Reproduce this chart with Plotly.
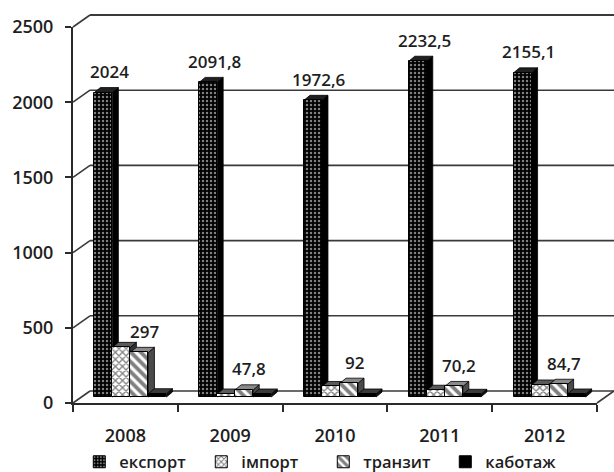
import plotly.graph_objects as go

# ---- data -------------------------------------------------------------
years = ["2008", "2009", "2010", "2011", "2012"]
series_names = ["експорт", "імпорт", "транзит", "каботаж"]
export_vals = [2024, 2091.8, 1972.6, 2232.5, 2155.1]
import_vals = [330, 20, 70, 45, 80]
transit_vals = [297, 47.8, 92, 70.2, 84.7]
cabotage_vals = [22, 20, 20, 18, 20]
y_ticks = [0, 500, 1000, 1500, 2000, 2500]

# ---- geometry of the pseudo-3D frame ---------------------------------
W, H = 614, 472
ML, MR, MT, MB = 73, 17, 27, 69
PW, PH = W - ML - MR, H - MT - MB
YMAX = 2500
XR = (-0.5, 4.5)
px_x = PW / (XR[1] - XR[0])          # pixels per x unit
px_y = PH / YMAX                     # pixels per y unit

WALL_DX, WALL_DY = 17, 12            # back wall offset in px
MID_DX, MID_DY = 5, 6                # plane where the bars stand
BAR_DX, BAR_DY = 6, 5                # depth of each bar in px

bw = 0.172
mid_x = MID_DX / px_x
base_y = MID_DY / px_y
offsets = [(k - 1.5) * bw + mid_x for k in range(4)]

FONT = "Open Sans"
INK = "#1e1e1e"
WEIGHT = 600

fig = go.Figure()

patterns = [
    dict(shape=".", fgcolor="white", bgcolor="black", size=4, solidity=0.3),
    dict(shape="x", fgcolor="black", bgcolor="white", size=5, solidity=0.45),
    dict(shape="\\", fgcolor="black", bgcolor="white", size=7, solidity=0.55),
    None,
]
fills = ["black", "white", "white", "black"]
top_colors = ["#202020", "#5a5a5a", "#8a8a8a", "#3a3a3a"]
side_colors = ["#000000", "#333333", "#4a4a4a", "#111111"]
all_vals = [export_vals, import_vals, transit_vals, cabotage_vals]

for k, (name, vals) in enumerate(zip(series_names, all_vals)):
    marker = dict(color=fills[k], line=dict(color="black", width=1))
    if patterns[k]:
        marker["pattern"] = patterns[k]
    fig.add_trace(go.Bar(
        x=[i + offsets[k] for i in range(len(years))],
        y=vals,
        base=base_y,
        width=bw,
        name=name,
        marker=marker,
        hovertemplate="%{y}<extra>" + name + "</extra>",
    ))

# depth faces of the bars (top and right side)
ddx = BAR_DX / px_x
ddy = BAR_DY / px_y
shapes = []
for k, vals in enumerate(all_vals):
    for i, v in enumerate(vals):
        x0 = i + offsets[k] - bw / 2
        x1 = x0 + bw
        b = base_y
        t = base_y + v
        top = f"M{x0},{t} L{x0+ddx},{t+ddy} L{x1+ddx},{t+ddy} L{x1},{t} Z"
        side = f"M{x1},{b} L{x1},{t} L{x1+ddx},{t+ddy} L{x1+ddx},{b+ddy} Z"
        for path, col in ((side, side_colors[k]), (top, top_colors[k])):
            shapes.append(dict(type="path", path=path, xref="x", yref="y",
                               fillcolor=col, line=dict(color="black", width=0.8),
                               layer="between"))

# back wall gridlines, floor and the slanted joins (paper coordinates)
wdx = WALL_DX / PW
wdy = WALL_DY / PH
line_style = dict(color="#3a3a3a", width=1.6)
for tv in y_ticks:
    yp = tv / YMAX
    shapes.append(dict(type="line", xref="paper", yref="paper",
                       x0=0, y0=yp, x1=wdx, y1=yp + wdy, line=line_style, layer="below"))
    shapes.append(dict(type="line", xref="paper", yref="paper",
                       x0=wdx, y0=yp + wdy, x1=1 + wdx, y1=yp + wdy,
                       line=dict(color="#3a3a3a", width=2.2 if tv == YMAX else 1.6),
                       layer="below"))
# right edge of the floor
shapes.append(dict(type="line", xref="paper", yref="paper",
                   x0=1, y0=0, x1=1 + wdx, y1=wdy, line=line_style, layer="below"))

# value labels above export and transit bars
annotations = []
for lab_series, k, dx in ((export_vals, 0, 0.06), (transit_vals, 2, 0.05)):
    for i, v in enumerate(lab_series):
        annotations.append(dict(
            x=i + offsets[k] + dx, y=base_y + v, xref="x", yref="y",
            text=format(v, "g").replace(".", ","),
            showarrow=False, yshift=21, yanchor="middle",
            font=dict(family=FONT, size=17, color=INK, weight=WEIGHT),
        ))

fig.update_layout(
    width=W, height=H,
    margin=dict(l=ML, r=MR, t=MT, b=MB, autoexpand=False),
    paper_bgcolor="white", plot_bgcolor="rgba(0,0,0,0)",
    font=dict(family=FONT, size=17, color=INK, weight=WEIGHT),
    bargap=0, barmode="overlay",
    showlegend=True,
    legend=dict(orientation="h", x=0.012, xanchor="left", y=-0.157, yanchor="middle",
                font=dict(family=FONT, size=16.5, color=INK, weight=WEIGHT),
                entrywidth=77, entrywidthmode="pixels",
                itemwidth=30, tracegroupgap=0, bgcolor="rgba(0,0,0,0)"),
    xaxis=dict(range=list(XR), tickvals=list(range(len(years))), ticktext=years,
               ticks="", showline=True, linecolor="#2a2a2a", linewidth=2,
               showgrid=False, zeroline=False, ticklabelstandoff=15, automargin=False,
               tickfont=dict(family=FONT, size=18, color=INK, weight=WEIGHT),
               minor=dict(tickmode="linear", tick0=-0.5, dtick=1, ticks="outside",
                          ticklen=7, tickwidth=2, tickcolor="#2a2a2a", showgrid=False)),
    yaxis=dict(range=[0, YMAX], tickvals=y_ticks, ticks="outside", ticklen=6,
               tickwidth=2, tickcolor="#2a2a2a", showline=True, linecolor="#2a2a2a",
               linewidth=2, showgrid=False, zeroline=False, ticklabelstandoff=8,
               automargin=False,
               tickfont=dict(family=FONT, size=18, color=INK, weight=WEIGHT)),
    shapes=shapes,
    annotations=annotations,
)

fig.write_html("out.html")
